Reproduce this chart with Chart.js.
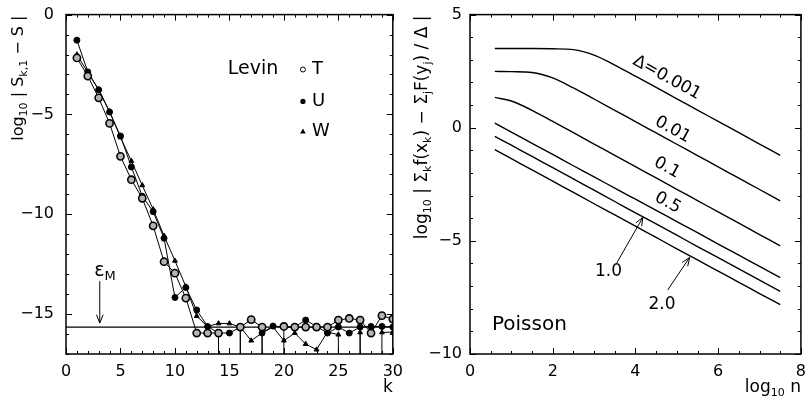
<!DOCTYPE html>
<html>
<head>
<meta charset="utf-8">
<script src="https://cdn.jsdelivr.net/npm/chart.js@4.4.1/dist/chart.umd.min.js"></script>
<style>
  body { margin: 0; background: #fff; }
  #wrap { position: relative; width: 808px; height: 398px; overflow: hidden; }
  canvas { position: absolute; }
</style>
</head>
<body>
<div id="wrap">
  <!-- canvases are shifted up so the plot boxes sit at y 15..354 (tick label padding pushes the top down) -->
  <canvas id="left" width="411" height="405" style="left:0; top:-7px"></canvas>
  <canvas id="right" width="414" height="401" style="left:400px; top:-3px"></canvas>
</div>
<script>
const FONT = "'DejaVu Sans', 'Liberation Sans', sans-serif";
const NEG = -300; // exact result: log10(0), drawn as a drop through the bottom axis

// left panel: Levin transforms, log10 |S_k,1 - S| against k
const kValues = [1, 2, 3, 4, 5, 6, 7, 8, 9, 10, 11, 12, 13, 14, 15, 16, 17, 18, 19, 20, 21, 22, 23, 24, 25, 26, 27, 28, 29, 30];
const levinT = [-2.17, -3.08, -4.17, -5.45, -7.10, -8.27, -9.20, -10.58, -12.38, -12.95, -14.20, -15.95, -15.95, -15.95, NEG,
                -15.65, -15.28, -15.65, NEG, -15.62, -15.65, -15.65, -15.65, -15.65, -15.30, -15.22, -15.30, -15.95, -15.08, -15.25];
const levinU = [-1.28, -2.87, -3.77, -4.88, -6.08, -7.63, -9.10, -9.87, -11.20, -14.17, -13.67, -14.80, -15.62, -15.95, -15.95,
                -15.65, NEG, -15.95, -15.60, -15.65, -15.65, -15.30, -15.62, -15.95, -15.65, -15.95, -15.65, -15.62, -15.62, -15.65];
const levinW = [-2.00, -2.90, -3.75, -4.85, -6.15, -7.33, -8.55, -9.75, -11.08, -12.33, -13.62, -15.10, -15.62, -15.47, -15.47,
                -15.65, -16.33, -15.95, -15.65, -16.33, -15.95, -16.50, -16.78, -15.90, -16.03, NEG, -15.92, NEG, -15.92, -15.90];
const epsM = -15.65;
const leftXRange = [0, 30];
const leftYRange = [-17, 0];

// right panel: Poisson, one curve per Delta
const logN = [0.6, 1, 1.5, 2, 2.5, 3, 3.5, 4, 4.5, 5, 5.5, 6, 6.5, 7, 7.5];
const delta0001 = [3.50, 3.50, 3.50, 3.49, 3.45, 3.21, 2.77, 2.28, 1.78, 1.28, 0.78, 0.28, -0.22, -0.72, -1.22];
const delta001 = [2.49, 2.48, 2.44, 2.20, 1.76, 1.27, 0.77, 0.27, -0.23, -0.73, -1.23, -1.73, -2.23, -2.73, -3.23];
const delta01 = [1.34, 1.18, 0.77, 0.28, -0.22, -0.72, -1.22, -1.72, -2.22, -2.72, -3.22, -3.72, -4.22, -4.72, -5.22];
const delta05 = [0.20, -0.19, -0.69, -1.18, -1.68, -2.17, -2.67, -3.16, -3.65, -4.15, -4.64, -5.14, -5.63, -6.13, -6.62];
const delta10 = [-0.38, -0.77, -1.27, -1.76, -2.26, -2.76, -3.26, -3.76, -4.25, -4.75, -5.25, -5.74, -6.24, -6.74, -7.23];
const delta20 = [-0.97, -1.37, -1.86, -2.36, -2.86, -3.36, -3.85, -4.35, -4.85, -5.35, -5.84, -6.34, -6.83, -7.33, -7.82];
const rightXRange = [0, 8];
const rightYRange = [-10, 5];

Chart.defaults.animation = false;
Chart.defaults.font.family = FONT;
Chart.defaults.color = '#000';

const minus = v => (v < 0 ? '\u2212' + Math.abs(v) : String(v));
const pts = (xs, ys) => xs.map((x, i) => ({ x: x, y: ys[i] }));

// text with subscripts; parts = [[text, isSub], ...]
function richText(ctx, parts, x, y, angle, align, size) {
  const big = size + 'px ' + FONT, small = Math.round(size * 0.66) + 'px ' + FONT;
  ctx.save();
  ctx.translate(x, y);
  ctx.rotate(angle);
  let w = 0;
  parts.forEach(([s, sub]) => { ctx.font = sub ? small : big; w += ctx.measureText(s).width; });
  let cx = align === 'right' ? -w : align === 'center' ? -w / 2 : 0;
  ctx.textAlign = 'left';
  ctx.textBaseline = 'middle';
  ctx.fillStyle = '#000';
  parts.forEach(([s, sub]) => {
    ctx.font = sub ? small : big;
    ctx.fillText(s, cx, sub ? size * 0.3 : 0);
    cx += ctx.measureText(s).width;
  });
  ctx.restore();
}

function arrow(ctx, x0, y0, x1, y1) {
  const a = Math.atan2(y1 - y0, x1 - x0), h = 9, s = 0.38;
  ctx.beginPath();
  ctx.moveTo(x0, y0); ctx.lineTo(x1, y1);
  ctx.moveTo(x1 - h * Math.cos(a - s), y1 - h * Math.sin(a - s));
  ctx.lineTo(x1, y1);
  ctx.lineTo(x1 - h * Math.cos(a + s), y1 - h * Math.sin(a + s));
  ctx.stroke();
}

// box round the plot area plus inward ticks on all four sides
const framePlugin = {
  id: 'frame',
  afterDraw(chart, args, opts) {
    const { ctx, chartArea: a, scales: { x, y } } = chart;
    ctx.save();
    ctx.strokeStyle = '#000';
    ctx.lineWidth = 1;
    ctx.beginPath();
    x.ticks.forEach(t => {
      const px = Math.round(x.getPixelForValue(t.value)) + 0.5;
      const len = Math.abs(t.value % opts.xMajor) < 1e-9 ? 6 : 3;
      ctx.moveTo(px, a.bottom); ctx.lineTo(px, a.bottom - len);
      ctx.moveTo(px, a.top); ctx.lineTo(px, a.top + len);
    });
    y.ticks.forEach(t => {
      const py = Math.round(y.getPixelForValue(t.value)) + 0.5;
      const len = Math.abs(t.value % opts.yMajor) < 1e-9 ? 6 : 3;
      ctx.moveTo(a.left, py); ctx.lineTo(a.left + len, py);
      ctx.moveTo(a.right, py); ctx.lineTo(a.right - len, py);
    });
    ctx.stroke();
    ctx.lineWidth = 1.5;
    ctx.strokeRect(a.left, a.top, a.right - a.left, a.bottom - a.top);
    ctx.restore();
  }
};

const leftNotes = {
  id: 'leftNotes',
  afterDraw(chart) {
    const { ctx, chartArea: a, scales: { x, y } } = chart;
    ctx.save();
    ctx.strokeStyle = '#000';
    ctx.fillStyle = '#000';
    ctx.lineWidth = 1;
    // machine epsilon arrow and label
    arrow(ctx, x.getPixelForValue(3.1), y.getPixelForValue(-13.35), x.getPixelForValue(3.1), y.getPixelForValue(-15.45));
    richText(ctx, [['\u03b5', 0], ['M', 1]], x.getPixelForValue(2.6), y.getPixelForValue(-12.85), 0, 'left', 19);
    // legend
    richText(ctx, [['Levin', 0]], x.getPixelForValue(14.85), y.getPixelForValue(-2.75), 0, 'left', 19);
    const lx = x.getPixelForValue(21.75);
    const rows = [[-2.75, 'T'], [-4.35, 'U'], [-5.85, 'W']];
    rows.forEach(([v, name], i) => {
      const py = y.getPixelForValue(v);
      ctx.beginPath();
      if (i === 0) { ctx.arc(lx, py, 2.5, 0, 2 * Math.PI); ctx.stroke(); }
      else if (i === 1) { ctx.arc(lx, py, 2.6, 0, 2 * Math.PI); ctx.fill(); }
      else { ctx.moveTo(lx, py - 3); ctx.lineTo(lx + 2.8, py + 2); ctx.lineTo(lx - 2.8, py + 2); ctx.closePath(); ctx.fill(); }
      richText(ctx, [[name, 0]], lx + 9, py, 0, 'left', 18);
    });
    // axis titles
    richText(ctx, [['log', 0], ['10', 1], [' | S', 0], ['k,1', 1], [' \u2212 S |', 0]], 19, a.top + 1, -Math.PI / 2, 'right', 16);
    richText(ctx, [['k', 0]], x.right, a.bottom + 34, 0, 'right', 17);
    ctx.restore();
  }
};

const rightNotes = {
  id: 'rightNotes',
  afterDraw(chart) {
    const { ctx, chartArea: a, scales: { x, y } } = chart;
    const P = (vx, vy) => [x.getPixelForValue(vx), y.getPixelForValue(vy)];
    const ang = Math.atan2(y.getPixelForValue(-1) - y.getPixelForValue(0), x.getPixelForValue(1) - x.getPixelForValue(0));
    ctx.save();
    ctx.strokeStyle = '#000';
    ctx.lineWidth = 1;
    [['\u0394=0.001', 4.76, 2.21], ['0.01', 4.9, -0.09], ['0.1', 4.76, -1.77], ['0.5', 4.78, -3.32]].forEach(([s, vx, vy]) => {
      const [px, py] = P(vx, vy);
      richText(ctx, [[s, 0]], px, py, ang, 'center', 17);
    });
    let [ax0, ay0] = P(3.55, -5.97), [ax1, ay1] = P(4.18, -3.96);
    arrow(ctx, ax0, ay0, ax1, ay1);
    [ax0, ay0] = P(4.78, -7.17); [ax1, ay1] = P(5.31, -5.73);
    arrow(ctx, ax0, ay0, ax1, ay1);
    let [tx, ty] = P(3.35, -6.35);
    richText(ctx, [['1.0', 0]], tx, ty, 0, 'center', 17);
    [tx, ty] = P(4.64, -7.83);
    richText(ctx, [['2.0', 0]], tx, ty, 0, 'center', 17);
    [tx, ty] = P(0.53, -8.72);
    richText(ctx, [['Poisson', 0]], tx, ty, 0, 'left', 20);
    // axis titles
    richText(ctx, [['log', 0], ['10', 1], [' | \u03a3', 0], ['k', 1], ['f(x', 0], ['k', 1], [') \u2212 \u03a3', 0], ['j', 1],
                   ['F(y', 0], ['j', 1], [') / \u0394 |', 0]], 23, a.top + 1, -Math.PI / 2, 'right', 17);
    richText(ctx, [['log', 0], ['10', 1], [' n', 0]], x.right, a.bottom + 34, 0, 'right', 17);
    ctx.restore();
  }
};

function levinSet(ys, style, radius, fill, bw) {
  return {
    data: pts(kValues, ys),
    borderColor: '#000',
    borderWidth: 1,
    pointStyle: style,
    pointRadius: radius,
    pointBackgroundColor: fill,
    pointBorderColor: '#000',
    pointBorderWidth: bw,
    tension: 0
  };
}

function curveSet(ys) {
  return {
    data: pts(logN, ys),
    borderColor: '#000',
    borderWidth: 1.4,
    pointRadius: 0,
    cubicInterpolationMode: 'monotone'
  };
}

function axes(xr, yr, xStep, yStep, xMajor, yMajor, yWidth, yPad) {
  const tickFont = { family: FONT, size: 16 };
  return {
    x: {
      type: 'linear', min: xr[0], max: xr[1],
      grid: { display: false, drawTicks: false }, border: { display: false },
      afterFit: s => { s.height = 44; },
      ticks: { stepSize: xStep, autoSkip: false, maxRotation: 0, padding: 8, font: tickFont, color: '#000',
               callback: v => (Math.abs(v % xMajor) < 1e-9 ? minus(v) : '') }
    },
    y: {
      type: 'linear', min: yr[0], max: yr[1],
      grid: { display: false, drawTicks: false }, border: { display: false },
      afterFit: s => { s.width = yWidth; },
      ticks: { stepSize: yStep, autoSkip: false, padding: yPad, font: tickFont, color: '#000',
               callback: v => (Math.abs(v % yMajor) < 1e-9 ? minus(v) : '') }
    }
  };
}

new Chart(document.getElementById('left'), {
  type: 'line',
  data: {
    datasets: [
      levinSet(levinT, 'circle', 3.6, '#b4b4b4', 1.6),
      levinSet(levinU, 'circle', 3, '#000', 1),
      levinSet(levinW, 'triangle', 2.8, '#000', 1),
      { data: pts(leftXRange, [epsM, epsM]), borderColor: '#000', borderWidth: 1.2, pointRadius: 0 }
    ]
  },
  options: {
    responsive: false,
    devicePixelRatio: 1,
    layout: { padding: 0 },
    plugins: { legend: { display: false }, tooltip: { enabled: false }, frame: { xMajor: 5, yMajor: 5 } },
    scales: axes(leftXRange, leftYRange, 1, 1, 5, 5, 66, 12)
  },
  plugins: [framePlugin, leftNotes]
});

new Chart(document.getElementById('right'), {
  type: 'line',
  data: {
    datasets: [delta0001, delta001, delta01, delta05, delta10, delta20].map(curveSet)
  },
  options: {
    responsive: false,
    devicePixelRatio: 1,
    layout: { padding: 0 },
    plugins: { legend: { display: false }, tooltip: { enabled: false }, frame: { xMajor: 2, yMajor: 5 } },
    scales: axes(rightXRange, rightYRange, 0.5, 1, 2, 5, 70, 8)
  },
  plugins: [framePlugin, rightNotes]
});
</script>
</body>
</html>
